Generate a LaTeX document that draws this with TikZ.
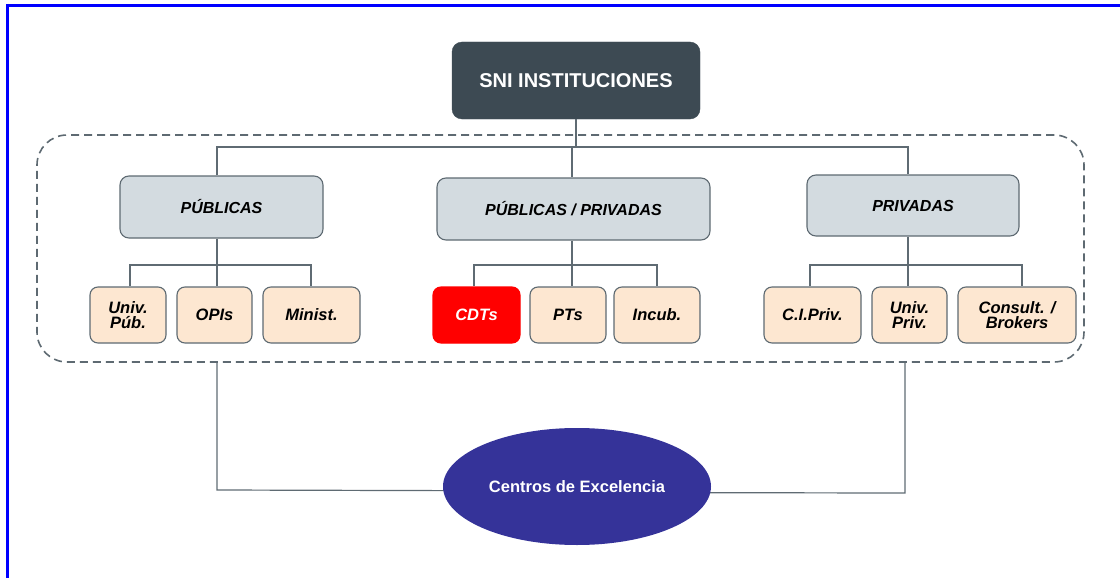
\documentclass[tikz,border=0pt]{standalone}
\usepackage{fontspec}
\setmainfont{Liberation Sans}
\usetikzlibrary{shapes.geometric}
\definecolor{frameblue}{RGB}{0,0,255}
\definecolor{topfill}{RGB}{61,74,83}
\definecolor{greyfill}{RGB}{211,219,224}
\definecolor{peach}{RGB}{253,231,209}
\definecolor{edge}{RGB}{94,106,114}
\definecolor{linecol}{RGB}{95,107,115}
\definecolor{ellfill}{RGB}{53,51,153}
\definecolor{cdtred}{RGB}{255,0,0}
\tikzset{
  conn/.style={draw=linecol, line width=1.2pt},
  topbox/.style={draw=topfill, fill=topfill, rounded corners=10pt, text=white,
    font=\fontsize{20}{22}\selectfont\bfseries, minimum width=248pt, minimum height=77pt},
  catbox/.style={draw=edge, fill=greyfill, line width=1.1pt, rounded corners=9pt,
    font=\fontsize{16}{16}\selectfont\bfseries\itshape, minimum height=62pt},
  subbox/.style={draw=edge, fill=peach, line width=1.1pt, rounded corners=8pt, align=center,
    font=\fontsize{16.5}{15}\selectfont\bfseries\itshape, minimum height=56pt, inner sep=1pt},
  redbox/.style={subbox, draw=cdtred, fill=cdtred, text=white},
  grpframe/.style={draw=edge, line width=1.6pt, dash pattern=on 8pt off 5pt, rounded corners=30pt,
    minimum width=1047pt, minimum height=227pt},
  ellnode/.style={ellipse, fill=ellfill, text=white, font=\fontsize{16.5}{18}\selectfont\bfseries,
    minimum width=268pt, minimum height=117pt, inner sep=0pt}
}
\begin{document}
\begin{tikzpicture}[x=1pt,y=-1pt]
\useasboundingbox (0,0) rectangle (1120,578);
% blue frame (top and left edges)
\draw[frameblue, line width=3pt] (6,5.5) coordinate (fa) -- (1120,5.5) coordinate (fb);
\draw[frameblue, line width=3pt] (7.5,4) coordinate (fc) -- (7.5,578) coordinate (fd);

% dashed group frame
\node[grpframe] (grp) at (560.5,248.5) {};

% bottom connectors (drawn first, under the ellipse)
\coordinate (lc) at (217,490);
\coordinate (rc) at (905,493);
\draw[conn] (grp.south -| lc) -- (lc) -- (577,491);
\draw[conn] (grp.south -| rc) -- (rc) -- (577,492.5);

% nodes
\node[topbox] (sni) at (576,80.5) {\raisebox{-3pt}{SNI INSTITUCIONES}};
\node[catbox, minimum width=203pt] (pub) at (221.5,207) {PÚBLICAS};
\node[catbox, minimum width=273pt] (pp) at (573.5,209) {PÚBLICAS / PRIVADAS};
\node[catbox, minimum width=212pt, minimum height=61pt] (priv) at (913,205.5) {PRIVADAS};

\node[subbox, minimum width=76pt] (univpub) at (128,315) {Univ.\\Púb.};
\node[subbox, minimum width=75pt] (opis) at (214.5,315) {OPIs};
\node[subbox, minimum width=97pt] (minist) at (311.5,315) {Minist.};

\node[redbox, minimum width=87pt] (cdts) at (476.5,315) {CDTs};
\node[subbox, minimum width=76pt] (pts) at (568,315) {PTs};
\node[subbox, minimum width=86pt] (incub) at (657,315) {Incub.};

\node[subbox, minimum width=97pt] (cipriv) at (812.5,315) {C.I.Priv.};
\node[subbox, minimum width=75pt] (univpriv) at (909.5,315) {Univ.\\Priv.};
\node[subbox, minimum width=118pt] (consult) at (1017,315) {Consult. /\\Brokers};

\node[ellnode] (ell) at (577,486.5) {Centros de Excelencia};

% top connectors
\coordinate (tbar) at (0,147);
\draw[conn] (sni.south) -- (sni.south |- tbar);
\draw[conn] (pub.north -| 217,0) -- (217,147) -- (908,147) -- (priv.north -| 908,0);
\draw[conn] (572,147) -- (pp.north -| 572,0);

% left group
\draw[conn] (pub.south -| 217,0) -- (217,265);
\draw[conn] (univpub.north -| 130,0) -- (130,265) -- (311,265) -- (minist.north -| 311,0);
\draw[conn] (217,265) -- (opis.north -| 217,0);

% middle group
\draw[conn] (pp.south -| 572,0) -- (572,265);
\draw[conn] (cdts.north -| 474,0) -- (474,265) -- (657,265) -- (incub.north -| 657,0);
\draw[conn] (572,265) -- (pts.north -| 572,0);

% right group
\draw[conn] (priv.south -| 908,0) -- (908,265);
\draw[conn] (cipriv.north -| 810,0) -- (810,265) -- (1022,265) -- (consult.north -| 1022,0);
\draw[conn] (908,265) -- (univpriv.north -| 908,0);
\end{tikzpicture}
\end{document}
